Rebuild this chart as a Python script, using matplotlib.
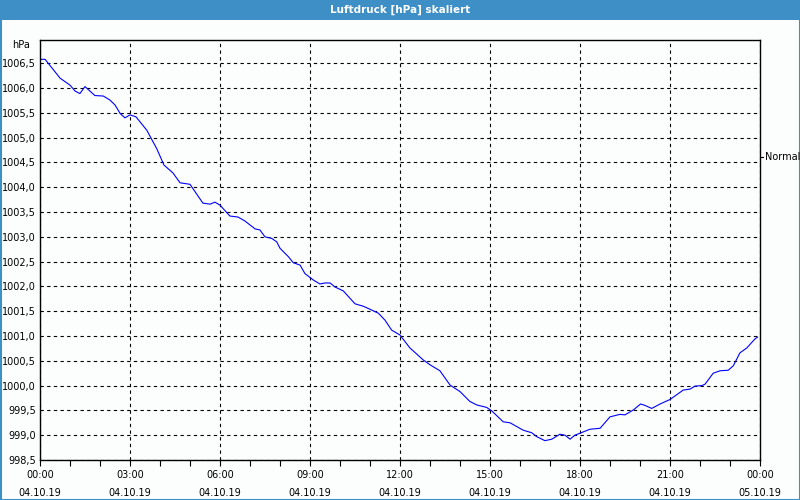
import numpy as np
import matplotlib
matplotlib.use("Agg")
import matplotlib.pyplot as plt
from matplotlib.ticker import FuncFormatter, MultipleLocator
from matplotlib.patches import Rectangle

# Stunden seit 04.10.19 00:00 und Luftdruck in hPa
stunden = [0.00, 0.17, 0.67, 1.00, 1.17, 1.33, 1.50, 1.83, 2.11, 2.33, 2.50, 2.67,
           2.83, 3.00, 3.20, 3.56, 3.89, 4.00, 4.13, 4.43, 4.67, 5.00, 5.43, 5.67,
           5.83, 6.00, 6.33, 6.60, 6.83, 7.17, 7.33, 7.50, 7.72, 7.89, 8.00, 8.28,
           8.44, 8.67, 8.83, 9.11, 9.33, 9.50, 9.67, 9.83, 10.11, 10.50, 10.78, 11.00,
           11.28, 11.50, 11.72, 12.00, 12.33, 12.77, 13.00, 13.33, 13.67, 14.00, 14.33, 14.56,
           14.89, 15.06, 15.44, 15.67, 16.11, 16.39, 16.56, 16.83, 17.06, 17.33, 17.50, 17.67,
           17.83, 18.00, 18.33, 18.67, 19.00, 19.33, 19.50, 19.78, 20.02, 20.17, 20.39, 20.67,
           21.00, 21.44, 21.67, 21.83, 22.06, 22.17, 22.44, 22.67, 22.94, 23.11, 23.33, 23.56,
           23.83, 23.92]
druck = [1006.58, 1006.58, 1006.20, 1006.06, 1005.94, 1005.89, 1006.03, 1005.85, 1005.84, 1005.76, 1005.66, 1005.49,
         1005.40, 1005.46, 1005.42, 1005.15, 1004.78, 1004.63, 1004.45, 1004.29, 1004.09, 1004.06, 1003.68, 1003.66,
         1003.70, 1003.64, 1003.42, 1003.40, 1003.32, 1003.16, 1003.14, 1003.00, 1002.97, 1002.90, 1002.77, 1002.60,
         1002.48, 1002.43, 1002.26, 1002.13, 1002.05, 1002.07, 1002.07, 1001.99, 1001.91, 1001.65, 1001.60, 1001.54,
         1001.46, 1001.32, 1001.12, 1001.02, 1000.76, 1000.52, 1000.42, 1000.30, 1000.01, 999.88, 999.68, 999.61,
         999.56, 999.49, 999.27, 999.25, 999.10, 999.05, 998.97, 998.89, 998.92, 999.02, 999.00, 998.92,
         999.00, 999.04, 999.12, 999.14, 999.37, 999.42, 999.41, 999.51, 999.63, 999.60, 999.54, 999.63,
         999.72, 999.91, 999.93, 999.99, 1000.00, 1000.03, 1000.25, 1000.30, 1000.31, 1000.40, 1000.66, 1000.76,
         1000.94, 1000.98]

x_ticks = [0, 3, 6, 9, 12, 15, 18, 21, 24]
x_labels = ["00:00\n04.10.19", "03:00\n04.10.19", "06:00\n04.10.19", "09:00\n04.10.19",
            "12:00\n04.10.19", "15:00\n04.10.19", "18:00\n04.10.19", "21:00\n04.10.19",
            "00:00\n05.10.19"]

titel = "Luftdruck [hPa] skaliert"
blau = "#3d8fc6"

plt.rcParams['font.family'] = ['DejaVu Sans']
fig = plt.figure(figsize=(8, 5), dpi=100, facecolor="#fbfefc")

# Titelleiste und Rahmen
fig.patches.append(Rectangle((0, 1 - 20/500), 1, 20/500, transform=fig.transFigure,
                             facecolor=blau, edgecolor="none"))
fig.patches.append(Rectangle((0.5/800, 0.5/500), 1 - 1/800, 1 - 1/500, transform=fig.transFigure,
                             facecolor="none", edgecolor=blau, linewidth=1.5))
fig.text(0.5, 1 - 10/500, titel, color="white", fontsize=7.5, fontweight="bold",
         ha="center", va="center")

ax = fig.add_axes([40/800, 40/500, 720/800, 420/500])
ax.set_facecolor("#fbfefc")
ax.plot(stunden, druck, color="#0000ff", linewidth=0.8)

ax.set_xlim(0, 24)
ax.set_ylim(998.5, 1006.97)
ax.set_xticks(x_ticks)
ax.set_xticklabels(x_labels, fontsize=7, linespacing=2.0)
ax.xaxis.set_minor_locator(MultipleLocator(1))
ax.yaxis.set_major_locator(MultipleLocator(0.5))
ax.yaxis.set_major_formatter(FuncFormatter(lambda v, p: f"{v:.1f}".replace(".", ",")))
ax.tick_params(axis="y", length=0, pad=3, labelsize=7)
ax.tick_params(axis="x", which="both", length=4, width=0.8, direction="out", pad=3)

ax.grid(True, color="black", linestyle=(0, (3, 3)), linewidth=0.8)
for s in ax.spines.values():
    s.set_linewidth(1.0)

fig.text(30/800, 1 - 45/500, "hPa", fontsize=7, ha="right", va="center")
fig.text(765/800, 1 - 157/500, "Normal", fontsize=7, ha="left", va="center")
fig.lines.append(plt.Line2D([761/800, 763/800], [1 - 157/500, 1 - 157/500],
                            transform=fig.transFigure, color="black", linewidth=0.8))

fig.savefig("out.png", dpi=100, facecolor=fig.get_facecolor())
